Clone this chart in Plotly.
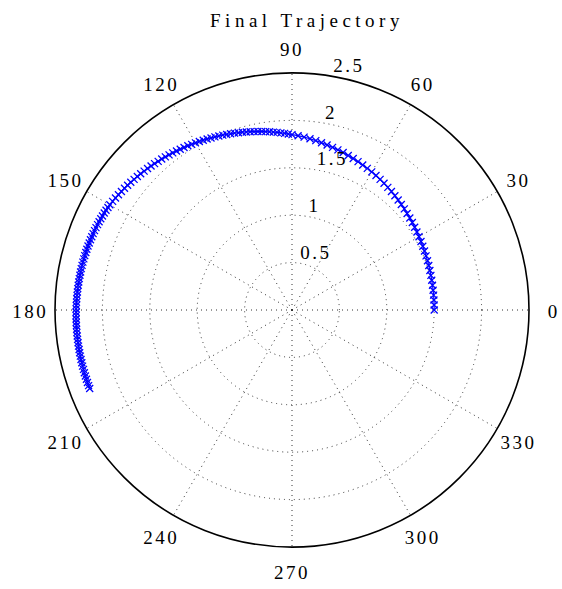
import plotly.graph_objects as go

theta_deg = [
    0, 2, 4, 6, 8, 10, 12, 14, 16, 18, 20, 22, 24, 26, 28, 30, 32, 34, 36, 38,
    40, 42, 44, 46, 48, 50, 52, 54, 56, 58, 60, 62, 64, 66, 68, 70, 72, 74, 76, 78,
    80, 82, 84, 86, 88,
    90.0, 91.2, 92.4, 93.6, 94.8, 96.0, 97.2, 98.4, 99.6, 100.8, 102.0, 103.2, 104.4,
    105.6, 106.8, 108.0, 109.2, 110.4, 111.6, 112.8, 114.0, 115.2, 116.4, 117.6, 118.8,
    120.0, 121.2, 122.4, 123.6, 124.8, 126.0, 127.2, 128.4, 129.6, 130.8, 132.0, 133.2,
    134.4, 135.6, 136.8, 138.0, 139.2, 140.4, 141.6, 142.8, 144.0, 145.2, 146.4, 147.6,
    148.8,
    150.0, 150.9, 151.8, 152.7, 153.6, 154.5, 155.4, 156.3, 157.2, 158.1, 159.0, 159.9,
    160.8, 161.7, 162.6, 163.5, 164.4, 165.3, 166.2, 167.1, 168.0, 168.9, 169.8, 170.7,
    171.6, 172.5, 173.4, 174.3, 175.2, 176.1, 177.0, 177.9, 178.8, 179.7, 180.6, 181.5,
    182.4, 183.3, 184.2, 185.1, 186.0, 186.9, 187.8, 188.7, 189.6, 190.5, 191.4, 192.3,
    193.2, 194.1, 195.0, 195.9, 196.8, 197.7, 198.6, 199.5, 200.4, 201.2,
]
radius = [
    1.500, 1.500, 1.501, 1.502, 1.503, 1.505, 1.507, 1.510, 1.513, 1.517, 1.521, 1.525,
    1.530, 1.535, 1.541, 1.547, 1.554, 1.561, 1.569, 1.577, 1.585, 1.594, 1.603, 1.612,
    1.622, 1.632, 1.642, 1.652, 1.662, 1.672, 1.682, 1.692, 1.702, 1.713, 1.724, 1.735,
    1.746, 1.757, 1.768, 1.780, 1.792, 1.804, 1.816, 1.828, 1.840,
    1.850, 1.857, 1.865, 1.872, 1.880, 1.887, 1.895, 1.902, 1.910, 1.917, 1.924, 1.932,
    1.939, 1.947, 1.954, 1.962, 1.969, 1.976, 1.984, 1.991, 1.999, 2.006, 2.014, 2.021,
    2.029, 2.036, 2.043, 2.051, 2.058, 2.066, 2.073, 2.081, 2.088, 2.096, 2.103, 2.110,
    2.118, 2.125, 2.133, 2.140, 2.148, 2.155, 2.162, 2.170, 2.177, 2.184, 2.191, 2.198,
    2.205, 2.212,
    2.219, 2.222, 2.226, 2.229, 2.232, 2.235, 2.238, 2.240, 2.243, 2.245, 2.247, 2.249,
    2.251, 2.253, 2.255, 2.257, 2.258, 2.260, 2.261, 2.263, 2.264, 2.265, 2.266, 2.267,
    2.268, 2.269, 2.270, 2.271, 2.272, 2.273, 2.274, 2.275, 2.276, 2.277, 2.277, 2.278,
    2.279, 2.280, 2.280, 2.281, 2.282, 2.282, 2.283, 2.283, 2.284, 2.284, 2.285, 2.285,
    2.286, 2.286, 2.287, 2.287, 2.288, 2.288, 2.288, 2.289, 2.289, 2.289,
]

angle_ticks = [0, 30, 60, 90, 120, 150, 180, 210, 240, 270, 300, 330]
angle_labels = [str(a) for a in angle_ticks]
angle_label_r = 2.76
radial_ticks = [0.5, 1.0, 1.5, 2.0, 2.5]
radial_labels = ["0.5", "1", "1.5", "2", "2.5"]
radial_label_angle = 80

FONT = "Liberation Serif"
FS = 19
W, H = 562, 589

# main polar: centre (292, 310) px, radius 237 px for r = 2.5
CX, CY, R1 = 292, 310, 237
R_MAX1 = 2.5
R_MAX2 = 2.8
R2 = R1 * R_MAX2 / R_MAX1
CY2 = CY + 3


def dom(cx, cy, rpx):
    return dict(x=[(cx - rpx) / W, (cx + rpx) / W],
                y=[(H - cy - rpx) / H, (H - cy + rpx) / H])


fig = go.Figure()
fig.add_trace(go.Scatterpolar(
    r=radius, theta=theta_deg, mode="lines+markers",
    line=dict(color="#0000ff", width=1.2),
    marker=dict(symbol="x-thin", size=7, line=dict(color="#0000ff", width=1.3)),
    showlegend=False, subplot="polar",
))
fig.add_trace(go.Scatterpolar(
    r=radial_ticks, theta=[radial_label_angle] * len(radial_ticks), mode="text",
    text=radial_labels, textposition="top right",
    textfont=dict(family=FONT, size=FS, color="black"),
    showlegend=False, hoverinfo="skip", subplot="polar",
))
fig.add_trace(go.Scatterpolar(
    r=[angle_label_r] * len(angle_ticks), theta=angle_ticks, mode="text",
    text=angle_labels, textposition="middle center",
    textfont=dict(family=FONT, size=FS, color="black"),
    showlegend=False, hoverinfo="skip", subplot="polar2",
))

GRID = "#333333"
fig.update_layout(
    width=W, height=H,
    paper_bgcolor="white", plot_bgcolor="white",
    margin=dict(l=0, r=0, t=0, b=0),
    title=dict(text="Final Trajectory", x=307/W, xanchor="center", y=0.977, yanchor="top",
               font=dict(family=FONT, size=FS, color="black")),
    polar=dict(
        domain=dom(CX, CY, R1),
        bgcolor="white",
        radialaxis=dict(range=[0, R_MAX1], tickvals=radial_ticks, showticklabels=False,
                        showline=False, ticks="", gridcolor=GRID, griddash="1px,4px",
                        gridwidth=1),
        angularaxis=dict(tickvals=angle_ticks, showticklabels=False, direction="counterclockwise",
                         rotation=0, showline=True, linecolor="black", linewidth=1.6,
                         ticks="", gridcolor=GRID, griddash="1px,4px", gridwidth=1),
    ),
    polar2=dict(
        domain=dom(CX, CY2, R2),
        bgcolor="rgba(0,0,0,0)",
        radialaxis=dict(range=[0, R_MAX2], visible=False, showgrid=False),
        angularaxis=dict(visible=False, showgrid=False, showline=False,
                         direction="counterclockwise", rotation=0),
    ),
    font=dict(family=FONT, size=FS, color="black"),
)

css = (
    "var s=document.createElement('style');"
    "s.textContent='.main-svg text{letter-spacing:2.5px;} .main-svg .gtitle{letter-spacing:4.5px;}';"
    "document.head.appendChild(s);"
)
fig.write_html("out.html", post_script=css)
